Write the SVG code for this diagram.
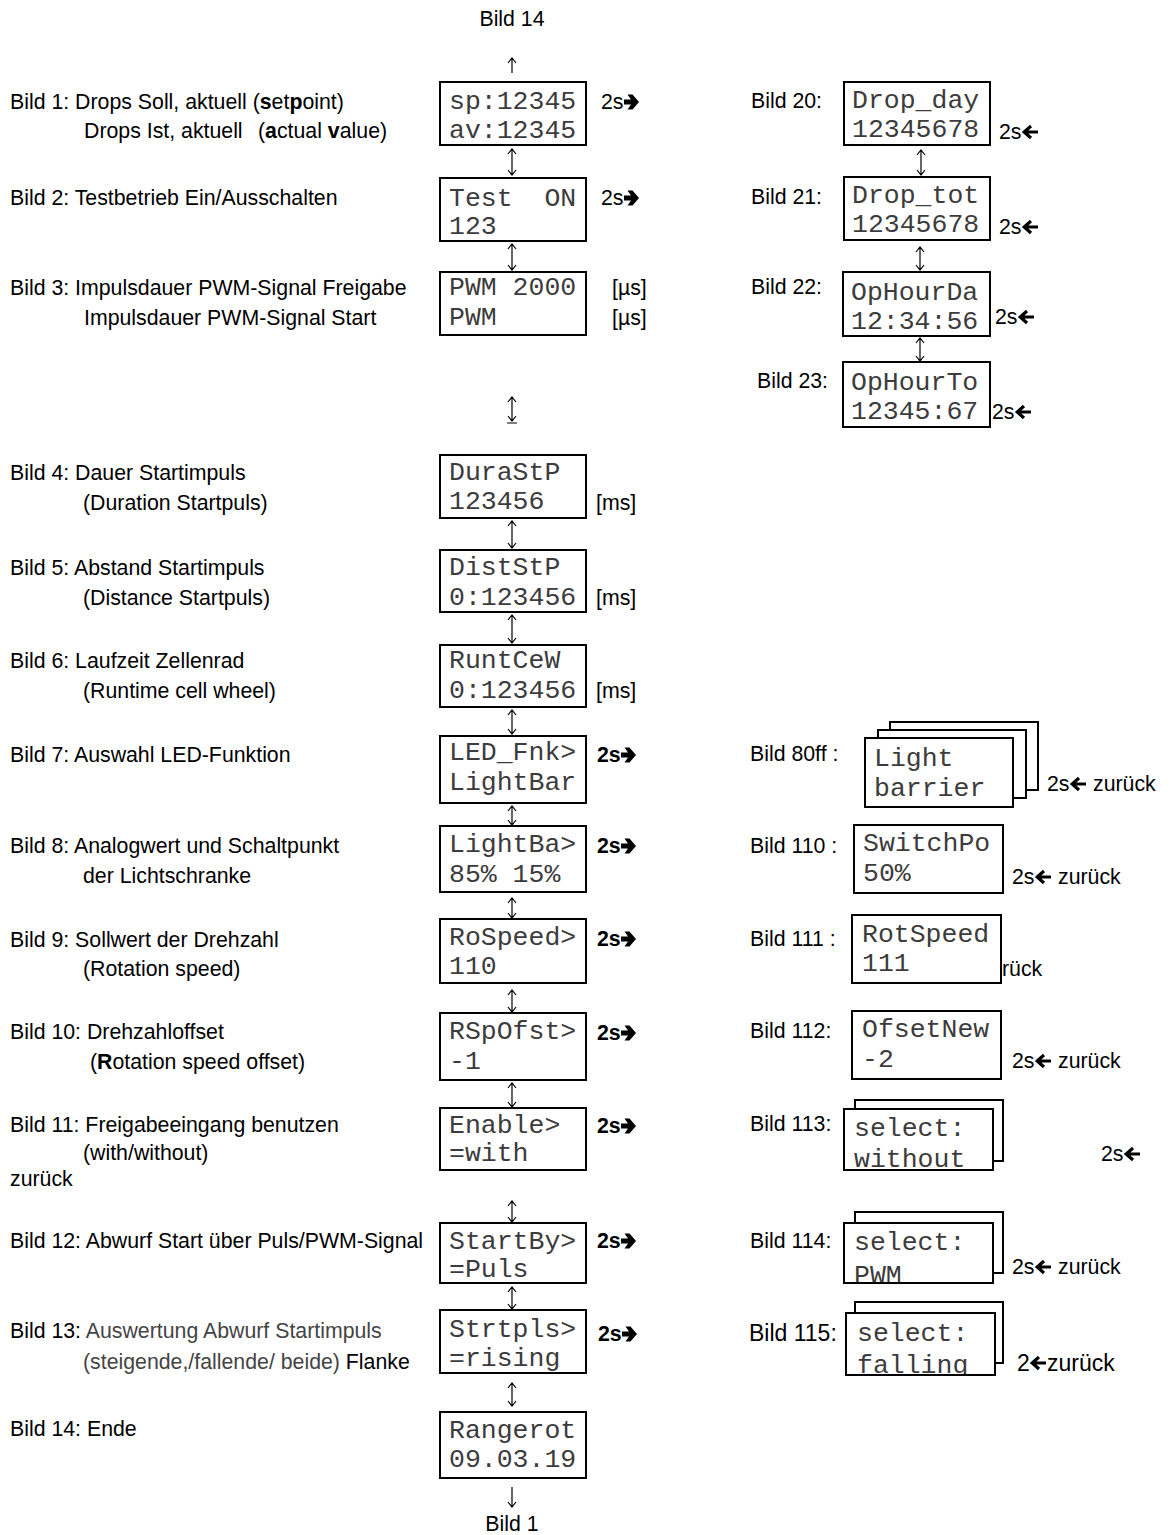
<svg xmlns="http://www.w3.org/2000/svg" width="1171" height="1535" viewBox="0 0 1171 1535">
<style>
.t{font-family:"Liberation Sans",Arial,sans-serif;font-size:21.3px;fill:#000}
.g{fill:#444}
.bd{font-weight:bold}
.m{font-family:"Liberation Mono","Courier New",monospace;font-size:26.5px;fill:#3c3c3c}
.box{fill:#fff;stroke:#000;stroke-width:2}
.con{fill:none;stroke:#000;stroke-width:1.2}
.la{fill:none;stroke:#000;stroke-width:3.2}
</style>
<defs>
<path id="ra" d="M0,-2.4 H7 L3.5,-7.5 H8.5 L15,0 L8.5,7.5 H3.5 L7,2.4 H0 Z"/>
<path id="la" class="la" d="M16,0 H3 M9,-6 L2.2,0 L9,6"/>
<clipPath id="c113"><rect x="845" y="1110" width="147" height="59"/></clipPath>
<clipPath id="c114"><rect x="845" y="1224" width="147" height="58"/></clipPath>
<clipPath id="c115"><rect x="847" y="1314" width="147" height="60"/></clipPath>
</defs>

<!-- top / bottom references -->
<text class="t" x="512" y="26" text-anchor="middle">Bild 14</text>
<text class="t" x="512" y="1531" text-anchor="middle">Bild 1</text>

<!-- left descriptions -->
<g id="desc">
<text class="t" x="10" y="109">Bild 1: Drops Soll, aktuell (<tspan class="bd">s</tspan>et<tspan class="bd">p</tspan>oint)</text>
<text class="t" x="84" y="138">Drops Ist, aktuell</text>
<text class="t" x="258" y="138">(<tspan class="bd">a</tspan>ctual <tspan class="bd">v</tspan>alue)</text>
<text class="t" x="10" y="205">Bild 2: Testbetrieb Ein/Ausschalten</text>
<text class="t" x="10" y="295">Bild 3: Impulsdauer PWM-Signal Freigabe</text>
<text class="t" x="84" y="325">Impulsdauer PWM-Signal Start</text>
<text class="t" x="10" y="480">Bild 4: Dauer Startimpuls</text>
<text class="t" x="83" y="510">(Duration Startpuls)</text>
<text class="t" x="10" y="575">Bild 5: Abstand Startimpuls</text>
<text class="t" x="83" y="605">(Distance Startpuls)</text>
<text class="t" x="10" y="668">Bild 6: Laufzeit Zellenrad</text>
<text class="t" x="83" y="698">(Runtime cell wheel)</text>
<text class="t" x="10" y="762">Bild 7: Auswahl LED-Funktion</text>
<text class="t" x="10" y="853">Bild 8: Analogwert und Schaltpunkt</text>
<text class="t" x="83" y="883">der Lichtschranke</text>
<text class="t" x="10" y="947">Bild 9: Sollwert der Drehzahl</text>
<text class="t" x="83" y="976">(Rotation speed)</text>
<text class="t" x="10" y="1039">Bild 10: Drehzahloffset</text>
<text class="t" x="90" y="1069">(<tspan class="bd">R</tspan>otation speed offset)</text>
<text class="t" x="10" y="1132">Bild 11: Freigabeeingang benutzen</text>
<text class="t" x="83" y="1160">(with/without)</text>
<text class="t" x="10" y="1186">zurück</text>
<text class="t" x="10" y="1248">Bild 12: Abwurf Start über Puls/PWM-Signal</text>
<text class="t" x="10" y="1338">Bild 13: <tspan class="g">Auswertung Abwurf Startimpuls</tspan></text>
<text class="t" x="83" y="1369"><tspan class="g">(steigende,/fallende/ beide)</tspan> Flanke</text>
<text class="t" x="10" y="1436">Bild 14: Ende</text>
</g>

<!-- connectors -->
<g id="connectors" class="con">
<path d="M512,58 V73 M508,63 L512,58 L516,63"/>
<path d="M512,1487 V1507 M508,1502 L512,1507 L516,1502"/>
<path d="M512,149 V175 M508,154 L512,149 L516,154 M508,170 L512,175 L516,170"/>
<path d="M512,244 V270 M508,249 L512,244 L516,249 M508,265 L512,270 L516,265"/>
<path d="M512,397 V421 M508,402 L512,397 L516,402 M508,416 L512,421 L516,416 M507,423 H517"/>
<path d="M512,521 V548 M508,526 L512,521 L516,526 M508,543 L512,548 L516,543"/>
<path d="M512,615 V643 M508,620 L512,615 L516,620 M508,638 L512,643 L516,638"/>
<path d="M512,710 V734 M508,715 L512,710 L516,715 M508,729 L512,734 L516,729"/>
<path d="M512,806 V825 M508,811 L512,806 L516,811 M508,820 L512,825 L516,820"/>
<path d="M512,898 V918 M508,903 L512,898 L516,903 M508,913 L512,918 L516,913"/>
<path d="M512,990 V1012 M508,995 L512,990 L516,995 M508,1007 L512,1012 L516,1007"/>
<path d="M512,1083 V1107 M508,1088 L512,1083 L516,1088 M508,1102 L512,1107 L516,1102"/>
<path d="M512,1201 V1222 M508,1206 L512,1201 L516,1206 M508,1217 L512,1222 L516,1217"/>
<path d="M512,1287 V1309 M508,1292 L512,1287 L516,1292 M508,1304 L512,1309 L516,1304"/>
<path d="M512,1383 V1406 M508,1388 L512,1383 L516,1388 M508,1401 L512,1406 L516,1401"/>
<path d="M921,150 V175 M917,155 L921,150 L925,155 M917,170 L921,175 L925,170"/>
<path d="M920,247 V270 M916,252 L920,247 L924,252 M916,265 L920,270 L924,265"/>
<path d="M920,338 V361 M916,343 L920,338 L924,343 M916,356 L920,361 L924,356"/>
</g>

<!-- center column -->
<g id="n1"><rect class="box" x="440" y="82" width="146" height="63"/>
<text class="m" x="449" y="109">sp:12345</text><text class="m" x="449" y="138">av:12345</text>
<text class="t" x="601" y="109">2s</text><use href="#ra" x="624" y="102"/></g>
<g id="n2"><rect class="box" x="440" y="178" width="146" height="63"/>
<text class="m" x="449" y="206" xml:space="preserve">Test  ON</text><text class="m" x="449" y="234">123</text>
<text class="t" x="601" y="205">2s</text><use href="#ra" x="624" y="198"/></g>
<g id="n3"><rect class="box" x="440" y="272" width="146" height="63"/>
<text class="m" x="449" y="295">PWM 2000</text><text class="m" x="449" y="325">PWM</text>
<text class="t" x="612" y="295">[µs]</text><text class="t" x="612" y="325">[µs]</text></g>
<g id="n4"><rect class="box" x="440" y="455" width="146" height="63"/>
<text class="m" x="449" y="480">DuraStP</text><text class="m" x="449" y="509">123456</text>
<text class="t" x="596" y="510">[ms]</text></g>
<g id="n5"><rect class="box" x="440" y="550" width="146" height="62"/>
<text class="m" x="449" y="575">DistStP</text><text class="m" x="449" y="605">0:123456</text>
<text class="t" x="596" y="605">[ms]</text></g>
<g id="n6"><rect class="box" x="440" y="645" width="146" height="62"/>
<text class="m" x="449" y="668">RuntCeW</text><text class="m" x="449" y="698">0:123456</text>
<text class="t" x="596" y="698">[ms]</text></g>
<g id="n7"><rect class="box" x="440" y="736" width="146" height="67"/>
<text class="m" x="449" y="760">LED_Fnk&gt;</text><text class="m" x="449" y="790">LightBar</text>
<text class="t bd" x="597" y="762">2s</text><use href="#ra" x="621" y="755"/></g>
<g id="n8"><rect class="box" x="440" y="826" width="146" height="66"/>
<text class="m" x="449" y="852">LightBa&gt;</text><text class="m" x="449" y="882">85% 15%</text>
<text class="t bd" x="597" y="853">2s</text><use href="#ra" x="621" y="846"/></g>
<g id="n9"><rect class="box" x="440" y="919" width="146" height="64"/>
<text class="m" x="449" y="945">RoSpeed&gt;</text><text class="m" x="449" y="974">110</text>
<text class="t bd" x="597" y="946">2s</text><use href="#ra" x="621" y="939"/></g>
<g id="n10"><rect class="box" x="440" y="1013" width="146" height="67"/>
<text class="m" x="449" y="1039">RSpOfst&gt;</text><text class="m" x="449" y="1069">-1</text>
<text class="t bd" x="597" y="1040">2s</text><use href="#ra" x="621" y="1033"/></g>
<g id="n11"><rect class="box" x="440" y="1108" width="146" height="62"/>
<text class="m" x="449" y="1133">Enable&gt;</text><text class="m" x="449" y="1161">=with</text>
<text class="t bd" x="597" y="1133">2s</text><use href="#ra" x="621" y="1126"/></g>
<g id="n12"><rect class="box" x="440" y="1223" width="146" height="60"/>
<text class="m" x="449" y="1249">StartBy&gt;</text><text class="m" x="449" y="1277">=Puls</text>
<text class="t bd" x="597" y="1248">2s</text><use href="#ra" x="621" y="1241"/></g>
<g id="n13"><rect class="box" x="440" y="1310" width="146" height="63"/>
<text class="m" x="449" y="1337">Strtpls&gt;</text><text class="m" x="449" y="1366">=rising</text>
<text class="t bd" x="598" y="1341">2s</text><use href="#ra" x="622" y="1334"/></g>
<g id="n14"><rect class="box" x="440" y="1412" width="146" height="66"/>
<text class="m" x="449" y="1438">Rangerot</text><text class="m" x="449" y="1467">09.03.19</text></g>

<!-- right column top -->
<g id="n20"><text class="t" x="751" y="108">Bild 20:</text>
<rect class="box" x="844" y="82" width="146" height="63"/>
<text class="m" x="852" y="108">Drop_day</text><text class="m" x="852" y="137">12345678</text>
<text class="t" x="999" y="139">2s</text><use href="#la" x="1022" y="132"/></g>
<g id="n21"><text class="t" x="751" y="204">Bild 21:</text>
<rect class="box" x="844" y="177" width="146" height="63"/>
<text class="m" x="852" y="203">Drop_tot</text><text class="m" x="852" y="232">12345678</text>
<text class="t" x="999" y="234">2s</text><use href="#la" x="1022" y="227"/></g>
<g id="n22"><text class="t" x="751" y="294">Bild 22:</text>
<rect class="box" x="843" y="272" width="147" height="64"/>
<text class="m" x="851" y="300">OpHourDa</text><text class="m" x="851" y="329">12:34:56</text>
<text class="t" x="995" y="324">2s</text><use href="#la" x="1018" y="317"/></g>
<g id="n23"><text class="t" x="757" y="388">Bild 23:</text>
<rect class="box" x="843" y="362" width="147" height="65"/>
<text class="m" x="851" y="390">OpHourTo</text><text class="m" x="851" y="419">12345:67</text>
<text class="t" x="992" y="419">2s</text><use href="#la" x="1015" y="412"/></g>

<!-- right column bottom -->
<g id="n80"><text class="t" x="750" y="761">Bild 80ff :</text>
<rect class="box" x="890" y="722" width="148" height="68"/>
<rect class="box" x="878" y="730" width="148" height="68"/>
<rect class="box" x="865" y="738" width="148" height="69"/>
<text class="m" x="874" y="766">Light</text><text class="m" x="874" y="796">barrier</text>
<text class="t" x="1047" y="791">2s</text><use href="#la" x="1070" y="784"/><text class="t" x="1093" y="791">zurück</text></g>
<g id="n110"><text class="t" x="750" y="853">Bild 110 :</text>
<rect class="box" x="854" y="825" width="149" height="68"/>
<text class="m" x="863" y="851">SwitchPo</text><text class="m" x="863" y="881">50%</text>
<text class="t" x="1012" y="884">2s</text><use href="#la" x="1035" y="877"/><text class="t" x="1058" y="884">zurück</text></g>
<g id="n111"><text class="t" x="750" y="946">Bild 111 :</text>
<rect class="box" x="852" y="915" width="149" height="68"/>
<text class="m" x="862" y="942">RotSpeed</text><text class="m" x="862" y="971">111</text>
<text class="t" x="1002" y="976">rück</text></g>
<g id="n112"><text class="t" x="750" y="1038">Bild 112:</text>
<rect class="box" x="852" y="1011" width="149" height="68"/>
<text class="m" x="862" y="1037">OfsetNew</text><text class="m" x="862" y="1067">-2</text>
<text class="t" x="1012" y="1068">2s</text><use href="#la" x="1035" y="1061"/><text class="t" x="1058" y="1068">zurück</text></g>
<g id="n113"><text class="t" x="750" y="1131">Bild 113:</text>
<rect class="box" x="855" y="1100" width="148" height="61"/>
<rect class="box" x="844" y="1109" width="149" height="61"/>
<text class="m" x="854" y="1136">select:</text><text class="m" x="854" y="1167" clip-path="url(#c113)">without</text>
<text class="t" x="1101" y="1161">2s</text><use href="#la" x="1124" y="1154"/></g>
<g id="n114"><text class="t" x="750" y="1248">Bild 114:</text>
<rect class="box" x="855" y="1212" width="148" height="61"/>
<rect class="box" x="844" y="1223" width="149" height="60"/>
<text class="m" x="854" y="1250">select:</text><text class="m" x="854" y="1283" clip-path="url(#c114)">PWM</text>
<text class="t" x="1012" y="1274">2s</text><use href="#la" x="1035" y="1267"/><text class="t" x="1058" y="1274">zurück</text></g>
<g id="n115"><text class="t" x="749" y="1341" style="font-size:23px">Bild 115:</text>
<rect class="box" x="855" y="1302" width="148" height="61"/>
<rect class="box" x="846" y="1313" width="149" height="62"/>
<text class="m" x="857" y="1341">select:</text><text class="m" x="857" y="1373" clip-path="url(#c115)">falling</text>
<text class="t" x="1017" y="1371" style="font-size:23px">2</text><use href="#la" x="1030" y="1363"/><text class="t" x="1047" y="1371" style="font-size:23px">zurück</text></g>
</svg>
